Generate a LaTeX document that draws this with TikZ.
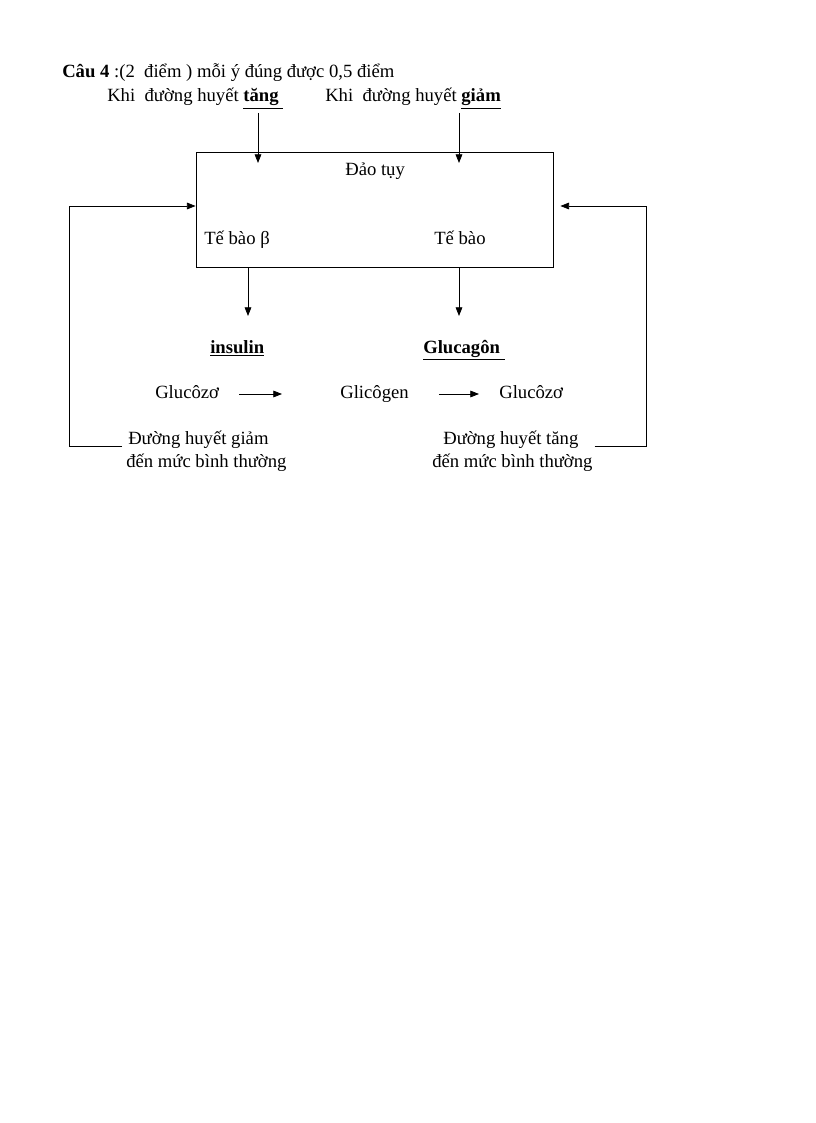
\documentclass[tikz,border=0pt]{standalone}
\usepackage{fontspec}
\setmainfont{Liberation Serif}
\usetikzlibrary{arrows.meta,calc}
\tikzset{
  txt/.style={anchor=base west, inner sep=0pt, font=\fontsize{14}{16}\selectfont},
  arr/.style={-{Triangle[length=6.5pt,width=5pt]}, line width=0.6pt},
  fb/.style={line width=0.6pt}
}
\begin{document}
\begin{tikzpicture}[x=0.75pt,y=-0.75pt]
  \useasboundingbox[fill=white] (0,0) rectangle (816,1123);

  % title and the two starting conditions
  \node[txt] (cau) at (62,78) {\textbf{Câu 4} :(2\ \ điểm ) mỗi ý đúng được 0,5 điểm};
  \node[txt] (khiT) at (107,102) {Khi\ \ đường huyết \underline{\textbf{tăng}\ }};
  \node[txt] (khiG) at (325,102) {Khi\ \ đường huyết \underline{\textbf{giảm}}};

  % the box
  \node[draw, fb, minimum width=267.75pt, minimum height=86.25pt, inner sep=0pt] (daotuy) at (374.5,209.5) {};
  \node[txt] (dao) at (345,176) {Đảo tụy};
  \node[txt] (beta) at (204,244) {Tế bào β};
  \node[txt] (alpha) at (434,244) {Tế bào};

  \coordinate (tangIn) at (258,113);
  \coordinate (giamIn) at (459,113);
  \draw[arr] (tangIn) -- ++(0,50);
  \draw[arr] (giamIn) -- ++(0,50);

  % hormones
  \coordinate (insOut) at (248,267);
  \coordinate (gluOut) at (459,267);
  \draw[arr] (insOut) -- ++(0,49);
  \draw[arr] (gluOut) -- ++(0,49);
  \node[txt] (ins) at (210,353) {\underline{\textbf{insulin}}};
  \node[txt] (gluca) at (423,353) {\underline{\textbf{Glucagôn}\ }};

  \node[txt] (glu1) at (155,398) {Glucôzơ};
  \node[txt] (glico) at (340,398) {Glicôgen};
  \node[txt] (glu2) at (499,398) {Glucôzơ};
  \draw[arr] ($(glu1.base east)+(20,-4)$) -- ($(glico.base west)+(-58,-4)$);
  \draw[arr] ($(glico.base east)+(30,-4)$) -- ($(glu2.base west)+(-20,-4)$);

  % feedback
  \node[txt] (giam1) at (128,444) {Đường huyết giảm};
  \node[txt] (giam2) at (126,467) {đến mức bình thường};
  \node[txt] (tang1) at (443,444) {Đường huyết tăng};
  \node[txt] (tang2) at (432,467) {đến mức bình thường};

  \coordinate (fbL) at (69,206);
  \coordinate (fbR) at (646,206);
  \draw[arr] ($(giam1.base west)+(-6,2)$) -| (fbL) -- (daotuy.west |- fbL);
  \draw[arr] ($(tang1.base east)+(16,2)$) -| (fbR) -- ($(daotuy.east |- fbR)+(7,0)$);
\end{tikzpicture}
\end{document}
